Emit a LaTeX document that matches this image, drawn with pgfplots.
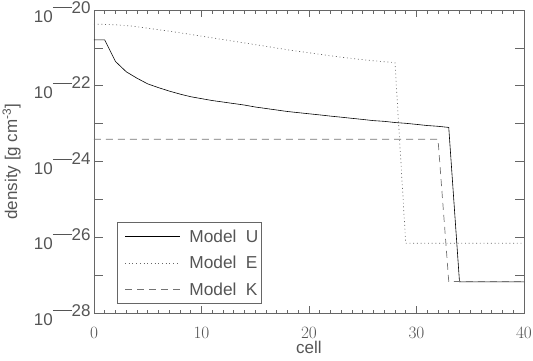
\documentclass[border=0pt]{standalone}
\usepackage{pgfplots}
\pgfplotsset{compat=1.18}
\usepackage{fontspec}
\setmainfont{Liberation Sans}
\definecolor{txt}{HTML}{555555}
\definecolor{axc}{HTML}{666666}
\newcommand{\tenpow}[1]{10\raisebox{0.55em}{\rule[0.3em]{1.1em}{0.06em}#1}}
\begin{document}
\begin{tikzpicture}
\path[use as bounding box] (-94pt,-48pt) rectangle (439pt,313pt);
\begin{axis}[
  scale only axis,
  width=430pt, height=303pt,
  xmin=0, xmax=40,
  ymode=log, ymin=1e-28, ymax=1e-20,
  xtick={0,10,20,30,40},
  minor x tick num=9,
  ytick={1e-28,1e-27,1e-26,1e-25,1e-24,1e-23,1e-22,1e-21,1e-20},
  yticklabels={\tenpow{28},,\tenpow{26},,\tenpow{24},,\tenpow{22},,\tenpow{20}},
  yminorticks=false,
  axis line style={axc, line width=0.9pt},
  every tick/.style={axc, line width=0.7pt},
  xtick style={/pgfplots/major tick length=7pt, /pgfplots/minor tick length=3.5pt},
  ytick style={/pgfplots/major tick length=9pt},
  tick align=inside,
  font=\fontsize{17}{20}\selectfont\color{txt},
  xticklabel style={anchor=base, yshift=-25.5pt},
  yticklabel style={anchor=base east, yshift=-12.5pt},
  xlabel={cell},
  ylabel={density [g cm\textsuperscript{-3}]},
  xlabel style={at={(axis description cs:0.5,0)}, anchor=base, yshift=-40.5pt},
  ylabel style={at={(axis description cs:-0.179,0.5)}, anchor=base},
  legend style={at={(rel axis cs:0.054,0.30)}, anchor=north west,
    draw=axc, line width=0.9pt, fill=none, inner xsep=1pt, inner ysep=5pt,
    row sep=8.5pt, cells={anchor=west}, font=\fontsize{17.3}{20}\selectfont\color{txt}},
  legend image code/.code={\path (-6pt,0pt); \draw[#1] (0pt,0pt) -- (55pt,0pt); \path (62pt,0pt);},
]
\addplot[black, line width=0.6pt] coordinates {
(0,1.62e-21) (1,1.62e-21) (2,4.37e-22) (3,2.34e-22) (4,1.58e-22) (5,1.12e-22)
(6,8.91e-23) (7,7.24e-23) (8,6.03e-23) (9,5.13e-23) (10,4.57e-23) (11,4.07e-23)
(12,3.72e-23) (13,3.39e-23) (14,3.09e-23) (15,2.75e-23) (16,2.51e-23) (17,2.29e-23)
(18,2.09e-23) (19,1.95e-23) (20,1.82e-23) (21,1.70e-23) (22,1.58e-23) (23,1.48e-23)
(24,1.38e-23) (25,1.29e-23) (26,1.20e-23) (27,1.15e-23) (28,1.07e-23) (29,1.02e-23)
(30,9.55e-24) (31,8.91e-24) (32,8.51e-24) (33,7.94e-24) (34,6.61e-28) (40,6.61e-28)
};
\addlegendentry{Model\hspace{0.55em}U}
\addplot[black!60, line width=0.7pt, dash pattern=on 0.9pt off 2.8pt] coordinates {
(0,4.27e-21) (1,4.17e-21) (2,4.07e-21) (3,3.89e-21) (4,3.63e-21) (5,3.31e-21)
(6,3.02e-21) (7,2.75e-21) (8,2.51e-21) (10,2.04e-21) (12,1.66e-21) (14,1.35e-21)
(16,1.10e-21) (18,8.91e-22) (20,7.41e-22) (22,6.17e-22) (24,5.25e-22) (26,4.57e-22)
(28,4.07e-22) (29,6.92e-27) (40,6.92e-27)
};
\addlegendentry{Model\hspace{0.55em}E}
\addplot[black!55, line width=0.7pt, dash pattern=on 7pt off 5pt] coordinates {
(0,3.89e-24) (32,3.89e-24) (33,6.76e-28) (40,6.76e-28)
};
\addlegendentry{Model\hspace{0.55em}K}
\end{axis}
\end{tikzpicture}
\end{document}
